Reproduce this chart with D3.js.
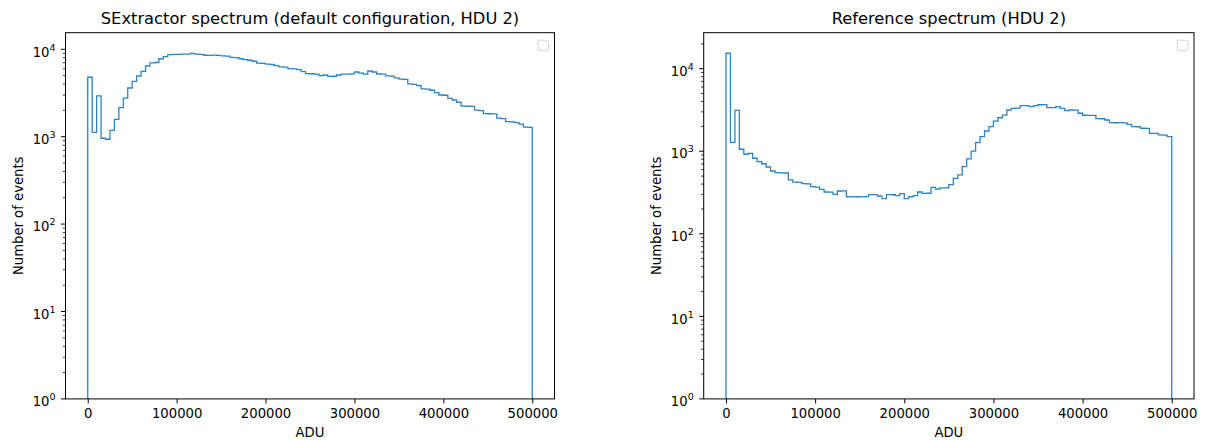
<!DOCTYPE html>
<html>
<head>
<meta charset="utf-8">
<script src="https://cdn.jsdelivr.net/npm/d3@7"></script>
<style>
  html, body { margin: 0; padding: 0; background: #fff; }
  svg { display: block; font-family: "DejaVu Sans", sans-serif; }
</style>
</head>
<body>
<svg id="chart" width="1206" height="440"></svg>
<script>
// Histogram binning: 100 bins of 5000 ADU from 0 to 500000
const binStart = 0;
const binWidth = 5000;

// Counts per bin, SExtractor with default configuration (HDU 2)
const sextractorCounts = [
  4790, 1120, 2930, 960, 935, 1180, 1580, 2150, 2770, 3610,
  4300, 4950, 5600, 6440, 7000, 7060, 7800, 8230, 8700, 8750,
  8770, 8790, 8800, 9000, 8800, 8750, 8550, 8540, 8560, 8520,
  8400, 8360, 8100, 8050, 7800, 7600, 7500, 7300, 6950, 6900,
  6750, 6700, 6500, 6300, 6250, 6000, 5980, 5840, 5540, 5280,
  5250, 5200, 4990, 5080, 4900, 4920, 5080, 5200, 5210, 5230,
  5500, 5330, 5210, 5650, 5500, 5220, 5200, 4960, 4940, 4700,
  4560, 4520, 4020, 3980, 3840, 3530, 3500, 3400, 3190, 3000,
  2980, 2750, 2630, 2480, 2240, 2230, 2220, 2010, 1990, 1840,
  1830, 1820, 1630, 1610, 1490, 1480, 1450, 1390, 1290, 1280
];

// Counts per bin, reference spectrum (HDU 2)
const referenceCounts = [
  15380, 1282, 3135, 1057, 919, 944, 822, 747, 706, 644,
  576, 552, 548, 545, 449, 423, 419, 405, 403, 372,
  368, 346, 321, 320, 301, 330, 331, 281, 280, 281,
  280, 282, 298, 299, 287, 266, 298, 297, 290, 306,
  266, 281, 290, 321, 309, 310, 366, 349, 359, 360,
  394, 470, 516, 650, 810, 1006, 1271, 1500, 1758, 1983,
  2323, 2547, 2746, 3160, 3300, 3320, 3560, 3570, 3466, 3563,
  3660, 3670, 3370, 3380, 3466, 3310, 3100, 3160, 3150, 2885,
  2730, 2720, 2725, 2480, 2475, 2389, 2220, 2215, 2218, 2210,
  2119, 1985, 1980, 1900, 1895, 1650, 1648, 1575, 1570, 1500
];

const xTickValues = [0, 100000, 200000, 300000, 400000, 500000];
const yMajorExponents = [0, 1, 2, 3, 4];

const panels = [
  {
    title: "SExtractor spectrum (default configuration, HDU 2)",
    counts: sextractorCounts,
    left: 65.5, right: 554.5, yTop: Math.pow(10, 4.19)
  },
  {
    title: "Reference spectrum (HDU 2)",
    counts: referenceCounts,
    left: 703.7, right: 1194, yTop: Math.pow(10, 4.436)
  }
];

const plotTop = 32.7, plotBottom = 398.9;
const lineColor = "#2b83c6";
const tickFont = 13.2;
const titleFont = 16.3;
const svg = d3.select("#chart");

panels.forEach((p, idx) => {
  const nBins = p.counts.length;
  const binEnd = binStart + nBins * binWidth;
  const pad = 0.05 * (binEnd - binStart);

  const x = d3.scaleLinear().domain([binStart - pad, binEnd + pad]).range([p.left, p.right]);
  const y = d3.scaleLog().domain([1, p.yTop]).range([plotBottom, plotTop]);

  const g = svg.append("g");
  const clipId = "clip" + idx;
  g.append("clipPath").attr("id", clipId)
    .append("rect")
    .attr("x", p.left).attr("y", plotTop)
    .attr("width", p.right - p.left).attr("height", plotBottom - plotTop);

  // step outline: up from the floor, across each bin, and back down at the end
  const pts = [[binStart, 1]];
  p.counts.forEach((c, i) => {
    const e0 = binStart + i * binWidth;
    pts.push([e0, c], [e0 + binWidth, c]);
  });
  pts.push([binEnd, 1]);

  const line = d3.line().x(d => x(d[0])).y(d => y(d[1]));
  g.append("path")
    .attr("clip-path", `url(#${clipId})`)
    .attr("d", line(pts))
    .attr("fill", "none")
    .attr("stroke", lineColor)
    .attr("stroke-width", 1.3)
    .attr("stroke-linejoin", "miter");

  // x axis
  const xAxis = d3.axisBottom(x).tickValues(xTickValues).tickFormat(d3.format("d"))
    .tickSize(4.5).tickPadding(5.5);
  const gx = g.append("g").attr("transform", `translate(0,${plotBottom})`).call(xAxis);
  gx.select(".domain").remove();
  gx.selectAll("line").attr("stroke", "#000").attr("stroke-width", 1);
  gx.selectAll("text").attr("font-size", tickFont).attr("font-family", "DejaVu Sans").attr("fill", "#000");

  // y axis: major ticks at decades, minor ticks at 2..9
  const [ylo, yhi] = y.domain();
  const minor = [];
  for (let e = 0; e <= 5; e++) {
    for (let m = 2; m <= 9; m++) {
      const v = m * Math.pow(10, e);
      if (v > ylo && v < yhi) minor.push(v);
    }
  }
  const gy = g.append("g");
  gy.selectAll("line.minor").data(minor).enter().append("line")
    .attr("x1", p.left - 2.6).attr("x2", p.left)
    .attr("y1", d => y(d)).attr("y2", d => y(d))
    .attr("stroke", "#000").attr("stroke-width", 0.8);
  const majors = yMajorExponents.map(e => Math.pow(10, e));
  gy.selectAll("line.major").data(majors).enter().append("line")
    .attr("x1", p.left - 4.5).attr("x2", p.left)
    .attr("y1", d => y(d)).attr("y2", d => y(d))
    .attr("stroke", "#000").attr("stroke-width", 1);
  const lbl = gy.selectAll("text.ylab").data(yMajorExponents).enter().append("text")
    .attr("x", p.left - 10)
    .attr("y", e => y(Math.pow(10, e)) + 7.2)
    .attr("text-anchor", "end")
    .attr("font-size", tickFont)
    .attr("fill", "#000");
  lbl.append("tspan").text("10");
  lbl.append("tspan").attr("dy", -6).attr("font-size", tickFont * 0.72).text(e => e);

  // frame
  g.append("rect")
    .attr("x", p.left).attr("y", plotTop)
    .attr("width", p.right - p.left).attr("height", plotBottom - plotTop)
    .attr("fill", "none").attr("stroke", "#000").attr("stroke-width", 1);

  // empty legend box
  g.append("rect")
    .attr("x", p.right - 16.5).attr("y", plotTop + 7.5)
    .attr("width", 10.5).attr("height", 10.5)
    .attr("rx", 2).attr("ry", 2)
    .attr("fill", "#fff").attr("stroke", "#d0d0d0").attr("stroke-width", 1);

  // titles and axis labels
  const cx = (p.left + p.right) / 2;
  g.append("text").attr("x", cx).attr("y", 24).attr("text-anchor", "middle")
    .attr("font-size", titleFont).attr("fill", "#000").text(p.title);
  g.append("text").attr("x", cx).attr("y", 436.5).attr("text-anchor", "middle")
    .attr("font-size", tickFont).attr("fill", "#000").text("ADU");
  g.append("text")
    .attr("transform", `translate(${p.left - 43},${(plotTop + plotBottom) / 2}) rotate(-90)`)
    .attr("text-anchor", "middle")
    .attr("font-size", tickFont).attr("fill", "#000").text("Number of events");
});
</script>
</body>
</html>
